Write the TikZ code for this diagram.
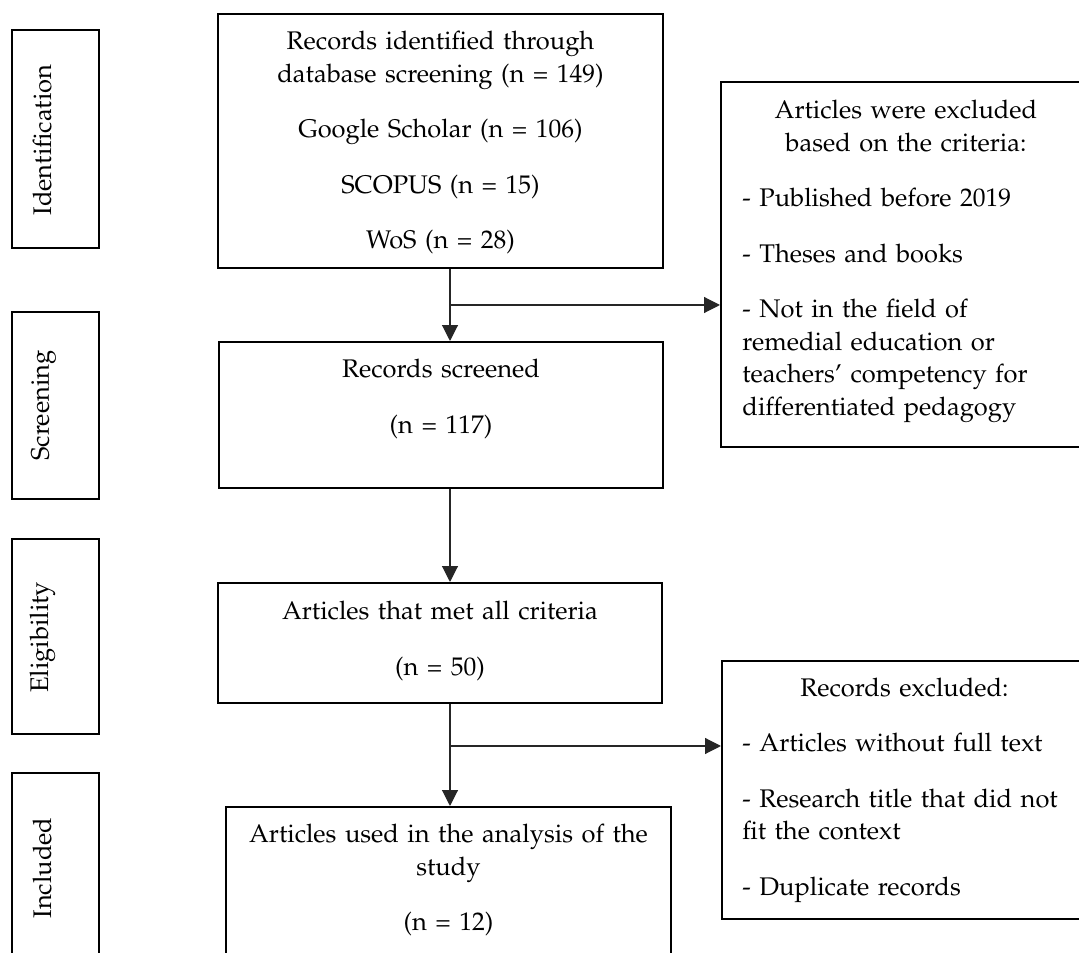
\documentclass[tikz,border=0pt]{standalone}
\usepackage[T1]{fontenc}
\usepackage{mathpazo}
\usetikzlibrary{arrows.meta,fit}
\begin{document}
\begin{tikzpicture}[x=0.4706pt,y=-0.4706pt,
  box/.style={draw=black, line width=0.95pt, inner sep=0pt},
  txt/.style={inner sep=0pt, font=\fontsize{12}{15.5}\selectfont, align=center, text width=#1},
  ltxt/.style={inner sep=0pt, font=\fontsize{12}{15.5}\selectfont, align=left, text width=#1},
  side/.style={inner sep=0pt, font=\fontsize{12}{15.5}\selectfont, rotate=90, anchor=base},
  link/.style={draw=black!85, line width=0.55pt},
  arr/.style={link, -{Triangle[length=7.5pt,width=7.5pt]}}]
\useasboundingbox (0,0) rectangle (1079,953);
\clip (0,0) rectangle (1079,953);

% phase boxes
\node[box, fit={(12,30) (99,248)}] (pid) {};
\node[box, fit={(12,312) (99,499)}] (psc) {};
\node[box, fit={(12,539) (99,734)}] (pel) {};
\node[box, fit={(12,773) (99,970)}] (pin) {};
\node[side] (lid) at (51,140) {Identification};
\node[side] (lsc) at (49,405.5) {Screening};
\node[side] (lel) at (48,637.5) {Eligibility};
\node[side] (lin) at (51,868) {Included};

% main boxes
\node[box, fit={(218,14) (663,268)}] (b1) {};
\node[box, fit={(219,342) (663,488)}] (b2) {};
\node[box, fit={(218,583) (662,703)}] (b3) {};
\node[box, fit={(226,807) (671,975)}] (b4) {};

\node[txt=190pt, anchor=base] (t1) at (440.5,50) {Records identified through\\ database screening (n = 149)\\[10.4pt] Google Scholar (n = 106)\\[10.4pt] SCOPUS (n = 15)\\[10.4pt] WoS (n = 28)};
\node[txt=190pt, anchor=base] (t2) at (441,378) {Records screened\\[10.4pt] (n = 117)};
\node[txt=190pt, anchor=base] (t3) at (440,620) {Articles that met all criteria\\[10.4pt] (n = 50)};
\node[txt=200pt, anchor=base] (t4) at (448.5,843) {Articles used in the analysis of the\\ study\\[10.4pt] (n = 12)};

% exclusion boxes
\node[box, fit={(721,82) (1100,447)}] (e1) {};
\node[box, fit={(722,661) (1100,919)}] (e2) {};

\node[txt=160pt, anchor=base] (h1) at (906,119) {Articles were excluded\\ based on the criteria:};
\node[ltxt=160pt, anchor=base west] (l1) at (742,207) {- Published before 2019\\[10.4pt] - Theses and books\\[10.4pt] - Not in the field of\\ remedial education or\\ teachers' competency for\\ differentiated pedagogy};
\node[txt=160pt, anchor=base] (h2) at (904.5,697) {Records excluded:};
\node[ltxt=160pt, anchor=base west] (l2) at (742,752) {- Articles without full text\\[10.4pt] - Research title that did not\\ fit the context\\[10.4pt] - Duplicate records};

% connectors
\coordinate (j1) at (450,305);
\coordinate (j2) at (450,746);
\draw[arr] (b1.south -| j1) -- (b2.north -| j1);
\draw[arr] (j1) -- (j1 -| e1.west);
\draw[arr] (b2.south -| j1) -- (b3.north -| j1);
\draw[arr] (b3.south -| j2) -- (b4.north -| j2);
\draw[arr] (j2) -- (j2 -| e2.west);
\end{tikzpicture}
\end{document}
